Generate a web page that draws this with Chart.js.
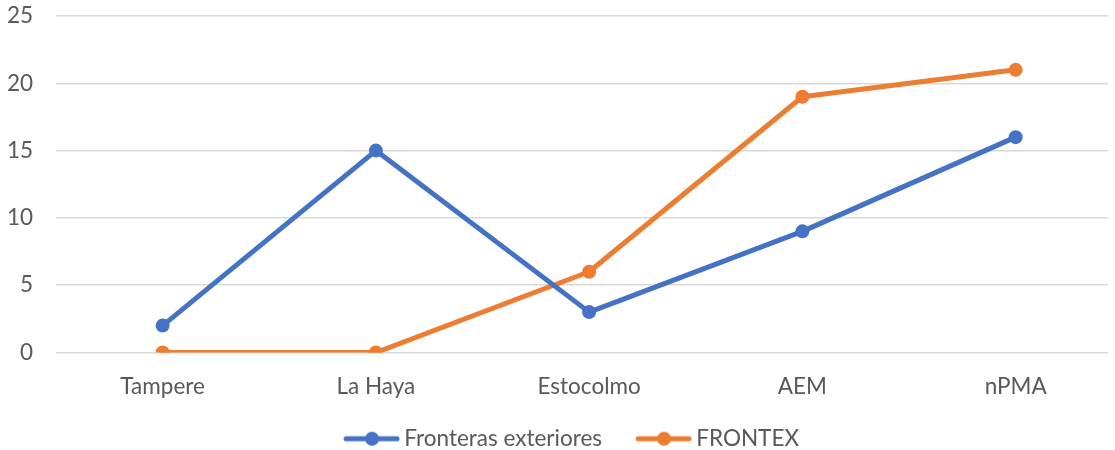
<!DOCTYPE html>
<html>
<head>
<meta charset="utf-8">
<script src="https://cdn.jsdelivr.net/npm/chart.js@4/dist/chart.umd.min.js"></script>
<style>
html,body{margin:0;padding:0;background:#fff;overflow:hidden;}
canvas{display:block;}
</style>
</head>
<body>
<canvas id="c" width="1115" height="450" style="width:1115px;height:450px"></canvas>
<script>
const categories = ['Tampere', 'La Haya', 'Estocolmo', 'AEM', 'nPMA'];
const seriesNames = ['Fronteras exteriores', 'FRONTEX'];
const fronterasExteriores = [2, 15, 3, 9, 16];
const frontex = [0, 0, 6, 19, 21];
const yTicks = [0, 5, 10, 15, 20, 25];

const BLUE = '#4472C4';
const ORANGE = '#ED7D31';
const FONT = 'Lato, Calibri, Carlito, sans-serif';
const FS = 22.5;
const BOXW = 77;
// category axis extends a little past the right edge of the picture
const X_MIN = -0.5;
const X_MAX = 4.433;

function legendIcon(color) {
  const cv = document.createElement('canvas');
  const w = BOXW + 14;
  cv.width = w; cv.height = 16;
  const g = cv.getContext('2d');
  g.strokeStyle = color; g.lineWidth = 5; g.lineCap = 'round';
  g.beginPath(); g.moveTo(w - 54, 8); g.lineTo(w - 3, 8); g.stroke();
  g.fillStyle = color;
  g.beginPath(); g.arc(w - 28, 8, 7, 0, Math.PI * 2); g.fill();
  return cv;
}

const icons = [legendIcon(BLUE), legendIcon(ORANGE)];
const toPoints = (vals) => vals.map((v, i) => ({ x: i, y: v }));

new Chart(document.getElementById('c'), {
  type: 'line',
  data: {
    datasets: [
      {
        label: seriesNames[0], data: toPoints(fronterasExteriores),
        borderColor: BLUE, backgroundColor: BLUE,
        borderWidth: 5, pointRadius: 7, pointHoverRadius: 7,
        pointBorderWidth: 0,
        tension: 0, borderCapStyle: 'round', borderJoinStyle: 'round'
      },
      {
        label: seriesNames[1], data: toPoints(frontex),
        borderColor: ORANGE, backgroundColor: ORANGE,
        borderWidth: 5, pointRadius: 7, pointHoverRadius: 7,
        pointBorderWidth: 0,
        tension: 0, borderCapStyle: 'round', borderJoinStyle: 'round'
      }
    ]
  },
  options: {
    responsive: false,
    animation: false,
    devicePixelRatio: 1,
    layout: { padding: { top: 0, right: 0, left: 0, bottom: -10 } },
    scales: {
      x: {
        type: 'linear',
        min: X_MIN, max: X_MAX,
        afterBuildTicks: (s) => { s.ticks = categories.map((c, i) => ({ value: i })); },
        afterFit: (s) => { s.paddingLeft = 0; s.paddingRight = 0; },
        grid: { display: false, drawTicks: false },
        border: { display: false },
        ticks: {
          color: '#595959', font: { family: FONT, size: FS }, padding: 21,
          maxRotation: 0, autoSkip: false,
          callback: (v) => categories[v]
        }
      },
      y: {
        min: 0, max: 25,
        afterFit: (s) => { s.width = 56; s.paddingTop = 16; s.paddingBottom = 0; },
        afterBuildTicks: (s) => { s.ticks = yTicks.map(v => ({ value: v })); },
        grid: { color: '#D9D9D9', lineWidth: 1.5, drawTicks: false },
        border: { display: false },
        ticks: { color: '#595959', font: { family: FONT, size: FS }, padding: 23 }
      }
    },
    plugins: {
      legend: {
        position: 'bottom',
        labels: {
          usePointStyle: true,
          pointStyleWidth: BOXW,
          padding: 6,
          color: '#595959',
          font: { family: FONT, size: FS },
          generateLabels: (chart) => chart.data.datasets.map((ds, i) => ({
            text: ds.label,
            pointStyle: icons[i],
            fillStyle: ds.borderColor,
            strokeStyle: ds.borderColor,
            lineWidth: 0,
            hidden: false,
            datasetIndex: i,
            fontColor: '#595959'
          }))
        }
      },
      tooltip: { enabled: false }
    }
  }
});
</script>
</body>
</html>
